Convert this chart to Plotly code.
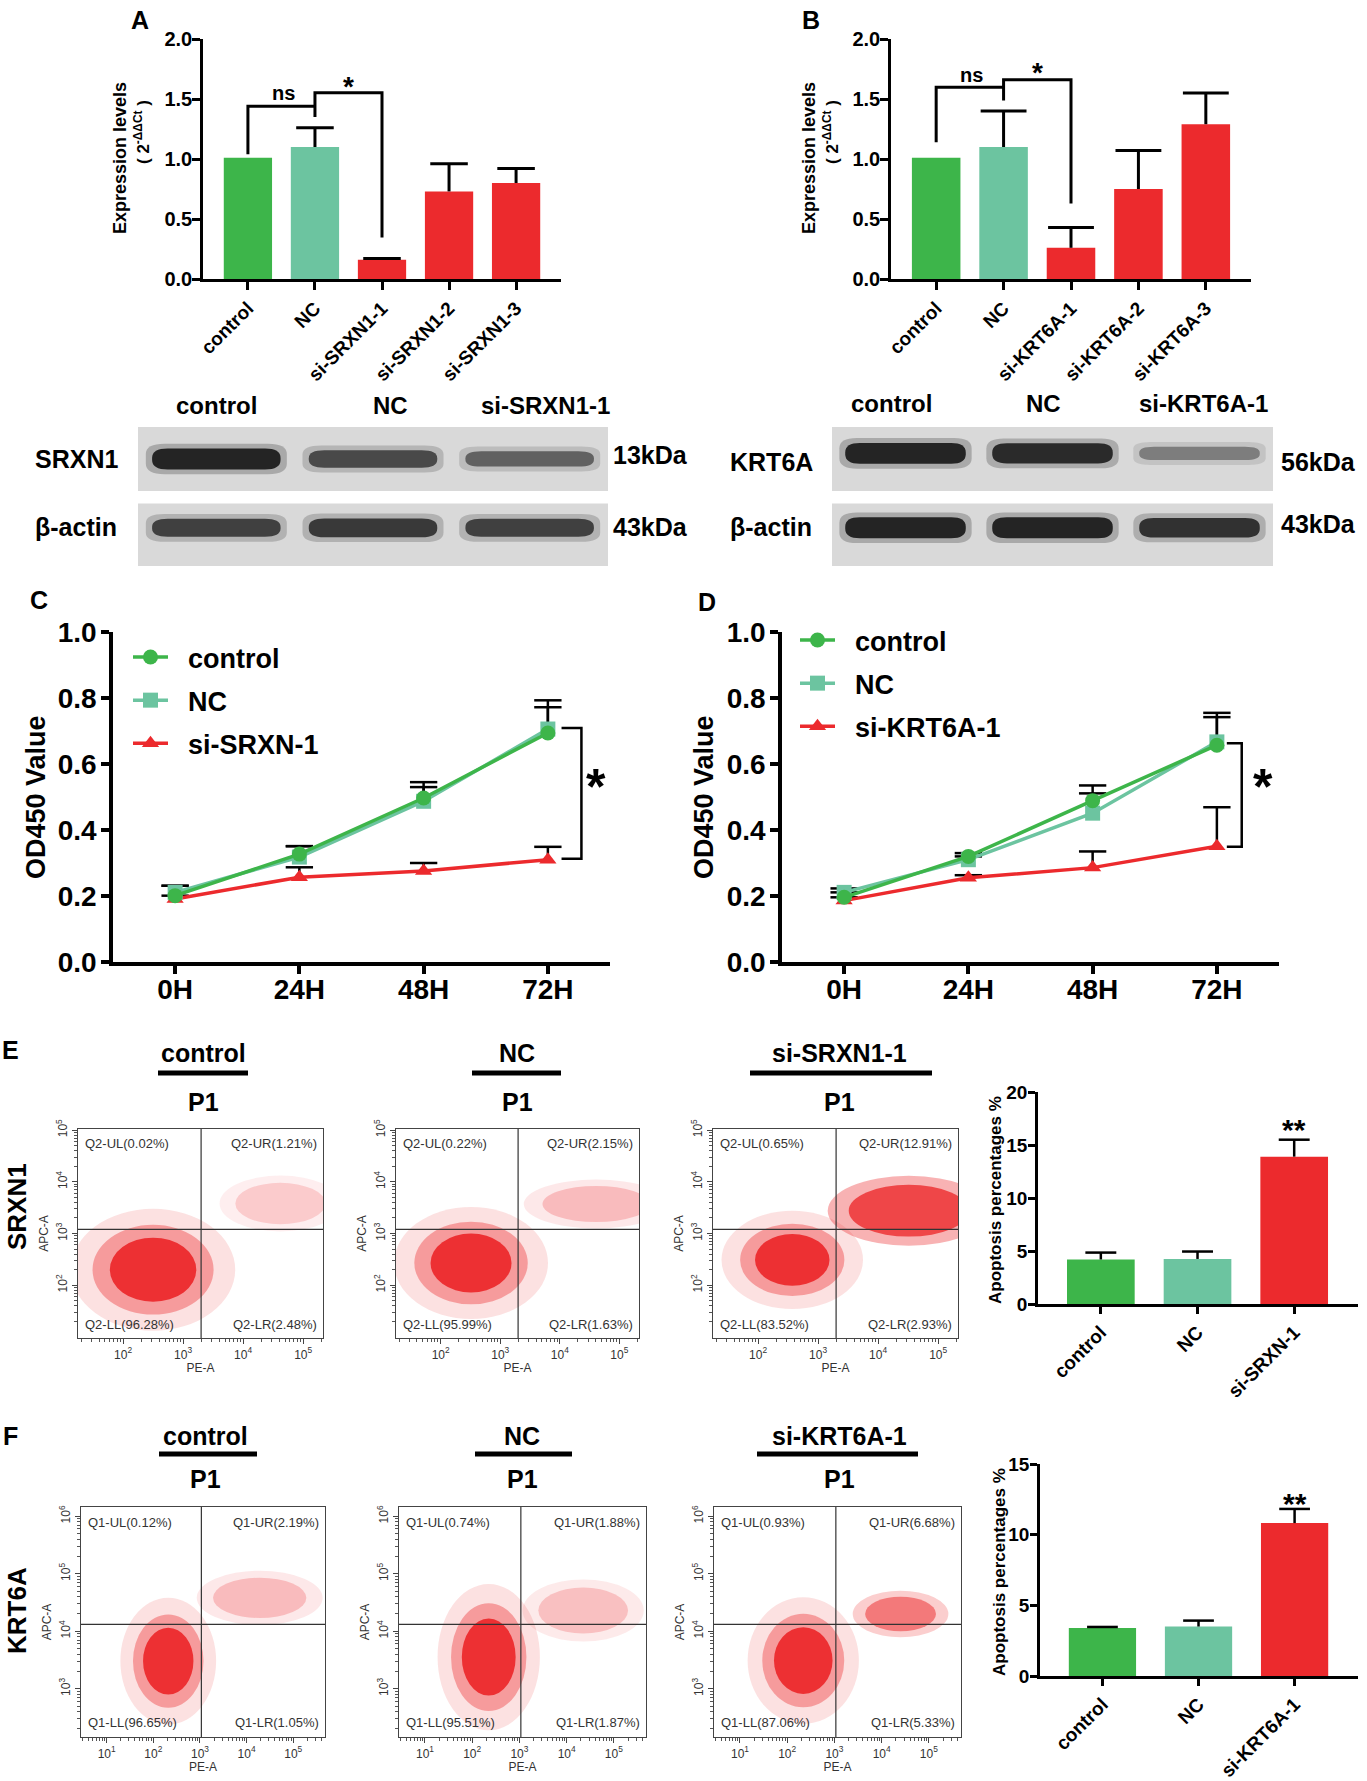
import plotly.graph_objects as go
import numpy as np

W, H = 1367, 1781

# ==================================================
# data
# ==================================================

# A / B : qPCR expression (2^-ddCt)
A_GROUPS = ["control", "NC", "si-SRXN1-1", "si-SRXN1-2", "si-SRXN1-3"]
A_EXPR = [1.01, 1.10, 0.16, 0.73, 0.80]
A_ERR = [0.0, 0.16, 0.01, 0.23, 0.12]

B_GROUPS = ["control", "NC", "si-KRT6A-1", "si-KRT6A-2", "si-KRT6A-3"]
B_EXPR = [1.01, 1.10, 0.26, 0.75, 1.29]
B_ERR = [0.0, 0.30, 0.17, 0.32, 0.26]

# western blot band intensity (0-1) for control, NC, si-1
BLOT_A_LANES = ["control", "NC", "si-SRXN1-1"]
SRXN1_BAND = [1.0, 0.75, 0.6]
ACTIN_A_BAND = [0.8, 0.85, 0.8]
BLOT_B_LANES = ["control", "NC", "si-KRT6A-1"]
KRT6A_BAND = [1.0, 0.95, 0.45]
ACTIN_B_BAND = [1.0, 1.0, 0.9]

# C / D : CCK-8 OD450
TIME = ["0H", "24H", "48H", "72H"]
C_CONTROL = [0.201, 0.327, 0.497, 0.694]
C_CONTROL_ERR = [0.03, 0.024, 0.048, 0.099]
C_NC = [0.211, 0.318, 0.487, 0.706]
C_NC_ERR = [0.02, 0.033, 0.043, 0.066]
C_SI = [0.191, 0.257, 0.276, 0.310]
C_SI_ERR = [0.01, 0.03, 0.024, 0.039]

D_CONTROL = [0.196, 0.320, 0.489, 0.657]
D_CONTROL_ERR = [0.015, 0.01, 0.046, 0.098]
D_NC = [0.211, 0.310, 0.451, 0.667]
D_NC_ERR = [0.012, 0.01, 0.06, 0.075]
D_SI = [0.186, 0.255, 0.286, 0.351]
D_SI_ERR = [0.01, 0.008, 0.049, 0.118]

# E / F : flow cytometry quadrants (%)
E_GROUPS = ["control", "NC", "si-SRXN1-1"]
E_UL = [0.02, 0.22, 0.65]
E_UR = [1.21, 2.15, 12.91]
E_LL = [96.28, 95.99, 83.52]
E_LR = [2.48, 1.63, 2.93]

F_GROUPS = ["control", "NC", "si-KRT6A-1"]
F_UL = [0.12, 0.74, 0.93]
F_UR = [2.19, 1.88, 6.68]
F_LL = [96.65, 95.51, 87.06]
F_LR = [1.05, 1.87, 5.33]

# population centres / spreads (log10 units)
E_LIVE_X = [2.50, 2.51, 2.57]
E_LIVE_Y = [2.30, 2.43, 2.49]
E_LIVE_SX = [0.72, 0.68, 0.62]
E_LIVE_SY = [0.62, 0.57, 0.50]
E_APO_X = [4.62, 4.61, 4.51]
E_APO_Y = [3.58, 3.57, 3.44]
E_APO_SX = [0.75, 0.9, 1.0]
E_APO_SY = [0.40, 0.35, 0.50]
E_GATE = [3.30, 3.08]

F_LIVE_X = [2.32, 2.35, 2.34]
F_LIVE_Y = [3.48, 3.55, 3.49]
F_LIVE_SX = [0.54, 0.57, 0.62]
F_LIVE_SY = [0.58, 0.67, 0.58]
F_APO_X = [4.28, 4.35, 4.40]
F_APO_Y = [4.58, 4.36, 4.30]
F_APO_SX = [1.0, 0.95, 0.75]
F_APO_SY = [0.35, 0.40, 0.30]
F_GATE = [3.03, 4.12]

# apoptosis percentages
E_BAR_GROUPS = ["control", "NC", "si-SRXN-1"]
E_APOP = [4.2, 4.25, 13.9]
E_APOP_ERR = [0.65, 0.7, 1.6]
F_BAR_GROUPS = ["control", "NC", "si-KRT6A-1"]
F_APOP = [3.40, 3.50, 10.82]
F_APOP_ERR = [0.07, 0.42, 1.0]


# ==================================================
# helpers
# ==================================================

FONT = "Liberation Sans, Arial, sans-serif"
GREEN, MINT, RED = "#3db54a", "#6cc4a0", "#ec2a2d"
BAR_COLORS = [GREEN, MINT, RED, RED, RED]

fig = go.Figure()
axes = {}
shapes = []
annotations = []


def xp(px):
    return px / W


def yp(py):
    return 1 - py / H


def bold(size, color="black"):
    return dict(family=FONT, size=size, color=color, weight=700)


def add_axes(n, x0, x1, y0, y1, xkw, ykw):
    xid = "x" if n == 1 else f"x{n}"
    yid = "y" if n == 1 else f"y{n}"
    axes["xaxis" if n == 1 else f"xaxis{n}"] = dict(domain=[xp(x0), xp(x1)], anchor=yid, **xkw)
    axes["yaxis" if n == 1 else f"yaxis{n}"] = dict(domain=[yp(y1), yp(y0)], anchor=xid, **ykw)
    return xid, yid


def text(x, y, s, size, angle=0, xanchor="center", yanchor="middle"):
    annotations.append(dict(
        x=xp(x), y=yp(y), xref="paper", yref="paper", text=s, showarrow=False,
        textangle=angle, xanchor=xanchor, yanchor=yanchor, font=bold(size)))


def stems(xs, vals, errs, half, xid, yid, width=2.5):
    X, Y = [], []
    for x, v, e in zip(xs, vals, errs):
        if e <= 0:
            continue
        X += [x, x, None, x - half, x + half, None]
        Y += [v, v + e, None, v + e, v + e, None]
    return go.Scatter(x=X, y=Y, mode="lines", line=dict(color="black", width=width),
                      xaxis=xid, yaxis=yid, showlegend=False, hoverinfo="skip")


def axis_style(lw, tl, size, standoff=0):
    return dict(showline=True, linecolor="black", linewidth=lw, ticks="outside",
                ticklen=tl, tickwidth=lw, tickcolor="black", showgrid=False,
                zeroline=False, fixedrange=True, tickfont=bold(size),
                ticklabelstandoff=standoff)


# ==================================================
# A / B expression bars
# ==================================================

def expr_panel(n, x0, x1, groups, vals, errs, cap, bracket, ns_y, star_y):
    xkw = axis_style(2.5, 8, 19)
    xkw.update(range=[-0.67, 4.67], tickvals=list(range(len(groups))), ticktext=groups, tickangle=-45)
    ykw = axis_style(2.5, 8, 20, -4)
    ykw.update(range=[0, 2.0], dtick=0.5, tickformat=".1f")
    xid, yid = add_axes(n, x0, x1, 39, 279, xkw, ykw)
    idx = list(range(len(groups)))
    fig.add_trace(go.Bar(x=idx, y=vals, width=0.72, marker=dict(color=BAR_COLORS, line=dict(width=0)),
                         xaxis=xid, yaxis=yid, showlegend=False))
    fig.add_trace(stems(idx, vals, errs, cap, xid, yid, 3))
    shapes.append(dict(type="path", xref=xid, yref=yid, path=bracket,
                       line=dict(color="black", width=3)))
    annotations.append(dict(x=0.53, y=ns_y, xref=xid, yref=yid, text="ns", showarrow=False,
                            font=bold(20)))
    annotations.append(dict(x=1.5, y=star_y, xref=xid, yref=yid, text="*", showarrow=False,
                            font=bold(28)))


expr_panel(1, 203, 561, A_GROUPS, A_EXPR, A_ERR, 0.28,
           "M 0,1.04 V 1.44 H 1 V 1.35 M 1,1.44 V 1.552 H 2 V 0.346", 1.55, 1.60)
expr_panel(2, 891, 1251, B_GROUPS, B_EXPR, B_ERR, 0.34,
           "M 0,1.14 V 1.597 H 1 V 1.487 M 1,1.597 V 1.66 H 2 V 0.63", 1.70, 1.72)

text(140, 20, "A", 25)
text(811, 20, "B", 25)
for cx in (120, 809):
    text(cx, 158, "Expression levels", 18, angle=-90)
    text(cx + 22, 132, "( 2<sup>-ΔΔCt</sup> )", 17, angle=-90)


# ==================================================
# western blots
# ==================================================

def rrect(x0, x1, y0, y1, rx, ry):
    return (f"M {x0 + rx},{y0} L {x1 - rx},{y0} Q {x1},{y0} {x1},{y0 + ry} L {x1},{y1 - ry} "
            f"Q {x1},{y1} {x1 - rx},{y1} L {x0 + rx},{y1} Q {x0},{y1} {x0},{y1 - ry} "
            f"L {x0},{y0 + ry} Q {x0},{y0} {x0 + rx},{y0} Z")


def blot_panel(n, x0, x1, target, actin, target_cy):
    xid, yid = add_axes(n, x0, x1, 427, 566, dict(range=[0, 3], visible=False, fixedrange=True),
                        dict(range=[-0.5, 1.5], visible=False, fixedrange=True))
    for ya, yb in [(0.58, 1.5), (-0.5, 0.4)]:
        shapes.append(dict(type="rect", xref=xid, yref=yid, x0=0, x1=3, y0=ya, y1=yb,
                           fillcolor="#d9d9d9", line=dict(width=0), layer="below"))
    for row, cy in [(target, target_cy), (actin, 0.05)]:
        for i, inten in enumerate(row):
            t = 0.10 + 0.20 * inten
            c = i + 0.5
            shapes.append(dict(type="path", xref=xid, yref=yid,
                               path=rrect(c - 0.45, c + 0.45, cy - t / 2 - 0.07, cy + t / 2 + 0.07, 0.12, t / 2),
                               fillcolor="#1a1a1a", opacity=0.25 * inten, line=dict(width=0)))
            shapes.append(dict(type="path", xref=xid, yref=yid,
                               path=rrect(c - 0.41, c + 0.41, cy - t / 2, cy + t / 2, 0.1, t / 2.2),
                               fillcolor="#111111", opacity=0.88 * inten, line=dict(width=0)))


blot_panel(3, 138, 608, SRXN1_BAND, ACTIN_A_BAND, 1.04)
blot_panel(4, 832, 1273, KRT6A_BAND, ACTIN_B_BAND, 1.12)

for lab, cx in zip(BLOT_A_LANES, [216, 390, 545]):
    text(cx, 405, lab, 24)
for lab, cx in zip(BLOT_B_LANES, [891, 1043, 1203]):
    text(cx, 403, lab, 24)
text(76, 459, "SRXN1", 25)
text(76, 527, "β-actin", 25)
text(650, 455, "13kDa", 25)
text(650, 527, "43kDa", 25)
text(771, 462, "KRT6A", 25)
text(771, 527, "β-actin", 25)
text(1318, 462, "56kDa", 25)
text(1318, 524, "43kDa", 25)


# ==================================================
# C / D OD450 curves
# ==================================================

def od_panel(n, x0, x1, series, legend, bracket, star_x):
    xkw = axis_style(3.5, 8, 28, -8)
    xkw.update(range=[-0.5, 3.5], tickvals=list(range(len(TIME))), ticktext=TIME)
    ykw = axis_style(3.5, 8, 28, -1)
    ykw.update(range=[0, 1.0], dtick=0.2, tickformat=".1f")
    xid, yid = add_axes(n, x0, x1, 632, 962, xkw, ykw)
    idx = list(range(len(TIME)))
    for name, vals, errs, color, symbol, rank in series:
        fig.add_trace(stems(idx, vals, errs, 0.11, xid, yid, 2.5))
    for name, vals, errs, color, symbol, rank in series:
        fig.add_trace(go.Scatter(
            x=idx, y=vals, mode="lines+markers", name="\u00a0\u00a0" + name,
            line=dict(color=color, width=3.5), marker=dict(symbol=symbol, size=15, color=color),
            xaxis=xid, yaxis=yid, legend=legend, legendgroup=name + legend, legendrank=rank))
    shapes.append(dict(type="path", xref=xid, yref=yid, path=bracket,
                       line=dict(color="black", width=2.5)))
    annotations.append(dict(x=star_x, y=0.53, xref=xid, yref=yid, text="*", showarrow=False,
                            font=bold(50)))


od_panel(5, 113, 610, [
    ("si-SRXN-1", C_SI, C_SI_ERR, RED, "triangle-up", 3),
    ("NC", C_NC, C_NC_ERR, MINT, "square", 2),
    ("control", C_CONTROL, C_CONTROL_ERR, GREEN, "circle", 1),
], "legend", "M 3.11,0.709 H 3.27 V 0.313 H 3.11", 3.39)

od_panel(6, 782, 1279, [
    ("si-KRT6A-1", D_SI, D_SI_ERR, RED, "triangle-up", 3),
    ("NC", D_NC, D_NC_ERR, MINT, "square", 2),
    ("control", D_CONTROL, D_CONTROL_ERR, GREEN, "circle", 1),
], "legend2", "M 3.08,0.663 H 3.2 V 0.349 H 3.08", 3.37)

text(39, 600, "C", 25)
text(707, 602, "D", 25)
text(36, 797, "OD450 Value", 27, angle=-90)
text(704, 797, "OD450 Value", 27, angle=-90)


# ==================================================
# E / F flow cytometry
# ==================================================

def flow_panel(n, x0, x1, y0, y1, xr, yr, xt, yt, gate, live, apo, ur, quads, prefix):
    minor = [d + float(np.log10(k)) for d in range(0, 7) for k in range(2, 10)]
    common = dict(showline=True, mirror=True, linecolor="#444", linewidth=1.2, ticks="outside",
                  ticklen=5, tickwidth=1, tickcolor="#444", showgrid=False, zeroline=False,
                  fixedrange=True, tickfont=dict(family=FONT, size=12, color="#333"),
                  minor=dict(tickvals=minor, ticks="outside", ticklen=3, tickcolor="#555"))
    xkw = dict(common, range=xr, tickvals=xt, ticktext=[f"10<sup>{t}</sup>" for t in xt],
               title=dict(text="PE-A", font=dict(family=FONT, size=12, color="#333"), standoff=2))
    ykw = dict(common, range=yr, tickvals=yt, ticktext=[f"10<sup>{t}</sup>" for t in yt],
               tickangle=-90,
               title=dict(text="APC-A", font=dict(family=FONT, size=12, color="#333"), standoff=2))
    xid, yid = add_axes(n, x0, x1, y0, y1, xkw, ykw)
    cx, cy, sx, sy = live
    for k, op in [(1.9, 0.14), (1.4, 0.38), (1.0, 0.95)]:
        shapes.append(dict(type="circle", xref=xid, yref=yid, x0=cx - sx * k, x1=cx + sx * k,
                           y0=cy - sy * k, y1=cy + sy * k, fillcolor=RED, opacity=op,
                           line=dict(width=0)))
    ax, ay, asx, asy = apo
    dens = min(0.8, 0.1 + ur / 16)
    for k, op in [(1.35, 0.45 * dens), (1.0, dens)]:
        shapes.append(dict(type="circle", xref=xid, yref=yid, x0=ax - asx * k, x1=ax + asx * k,
                           y0=ay - asy * k, y1=ay + asy * k, fillcolor=RED, opacity=op,
                           line=dict(width=0)))
    shapes.append(dict(type="line", xref=xid, yref=yid + " domain", x0=gate[0], x1=gate[0], y0=0, y1=1,
                       line=dict(color="#333", width=1.2)))
    shapes.append(dict(type="line", xref=xid + " domain", yref=yid, x0=0, x1=1, y0=gate[1], y1=gate[1],
                       line=dict(color="#333", width=1.2)))
    ul, urv, ll, lr = quads
    for lab, v, qx, qy, xa, ya in [("UL", ul, 0.02, 0.975, "left", "top"),
                                   ("UR", urv, 0.985, 0.975, "right", "top"),
                                   ("LL", ll, 0.02, 0.02, "left", "bottom"),
                                   ("LR", lr, 0.985, 0.02, "right", "bottom")]:
        annotations.append(dict(x=qx, y=qy, xref=xid + " domain", yref=yid + " domain",
                                text=f"{prefix}-{lab}({v:.2f}%)", showarrow=False,
                                xanchor=xa, yanchor=ya,
                                font=dict(family=FONT, size=13, color="#333")))


E_BOXES = [(78, 323), (396, 639), (713, 958)]
F_BOXES = [(81, 325), (399, 646), (714, 961)]
for i in range(3):
    flow_panel(7 + i, E_BOXES[i][0], E_BOXES[i][1], 1129, 1338, [1.25, 5.33], [0.98, 5.02],
               [2, 3, 4, 5], [2, 3, 4, 5], E_GATE,
               (E_LIVE_X[i], E_LIVE_Y[i], E_LIVE_SX[i], E_LIVE_SY[i]),
               (E_APO_X[i], E_APO_Y[i], E_APO_SX[i], E_APO_SY[i]), E_UR[i],
               (E_UL[i], E_UR[i], E_LL[i], E_LR[i]), "Q2")
    flow_panel(11 + i, F_BOXES[i][0], F_BOXES[i][1], 1507, 1737, [0.45, 5.68], [2.16, 6.16],
               [1, 2, 3, 4, 5], [3, 4, 5, 6], F_GATE,
               (F_LIVE_X[i], F_LIVE_Y[i], F_LIVE_SX[i], F_LIVE_SY[i]),
               (F_APO_X[i], F_APO_Y[i], F_APO_SX[i], F_APO_SY[i]), F_UR[i],
               (F_UL[i], F_UR[i], F_LL[i], F_LR[i]), "Q1")

# column headers above the dot plots
E_HEAD = [(203, 158, 248), (517, 472, 561), (839, 750, 932)]
F_HEAD = [(205, 159, 257), (522, 475, 572), (839, 757, 918)]
for groups, heads, ty, uy, p1y in [(E_GROUPS, E_HEAD, 1053, 1073, 1102),
                                   (F_GROUPS, F_HEAD, 1436, 1454, 1479)]:
    for g, (cx, u0, u1) in zip(groups, heads):
        text(cx, ty, g, 25)
        shapes.append(dict(type="line", xref="paper", yref="paper", x0=xp(u0), x1=xp(u1),
                           y0=yp(uy), y1=yp(uy), line=dict(color="black", width=5)))
        text(cx, p1y, "P1", 25)

text(10, 1050, "E", 25)
text(10, 1436, "F", 25)
text(17, 1207, "SRXN1", 26, angle=-90)
text(17, 1611, "KRT6A", 26, angle=-90)


# ==================================================
# E / F apoptosis bars
# ==================================================

def apop_panel(n, x0, x1, y0, y1, groups, vals, errs, ymax, star_y):
    xkw = axis_style(2.5, 7, 19)
    xkw.update(range=[-0.65, 2.66], tickvals=[0, 1, 2], ticktext=groups, tickangle=-45)
    ykw = axis_style(2.5, 7, 19, -3)
    ykw.update(range=[0, ymax], dtick=5)
    xid, yid = add_axes(n, x0, x1, y0, y1, xkw, ykw)
    fig.add_trace(go.Bar(x=[0, 1, 2], y=vals, width=0.7, marker=dict(color=[GREEN, MINT, RED], line=dict(width=0)),
                         xaxis=xid, yaxis=yid, showlegend=False))
    fig.add_trace(stems([0, 1, 2], vals, errs, 0.16, xid, yid, 2.5))
    annotations.append(dict(x=2, y=star_y, xref=xid, yref=yid, text="**", showarrow=False,
                            font=bold(30)))


apop_panel(10, 1038, 1358, 1092, 1304, E_BAR_GROUPS, E_APOP, E_APOP_ERR, 20, 16.5)
apop_panel(14, 1040, 1358, 1464, 1676, F_BAR_GROUPS, F_APOP, F_APOP_ERR, 15, 12.2)
text(995, 1200, "Apoptosis percentages %", 17, angle=-90)
text(999, 1572, "Apoptosis percentages %", 17, angle=-90)


# ==================================================
# layout
# ==================================================

legend_common = dict(xanchor="left", yanchor="top", bgcolor="rgba(0,0,0,0)", itemwidth=35,
                     tracegroupgap=5, traceorder="grouped", font=bold(27))

fig.update_layout(
    width=W,
    height=H,
    margin=dict(l=0, r=0, t=0, b=0),
    paper_bgcolor="white",
    plot_bgcolor="white",
    template="none",
    showlegend=True,
    legend=dict(legend_common, x=xp(128), y=yp(633)),
    legend2=dict(legend_common, x=xp(795), y=yp(616)),
    shapes=shapes,
    annotations=annotations,
    **axes,
)

fig.write_html("out.html", config={"displayModeBar": False},
               post_script="document.body.style.margin='0px';")
